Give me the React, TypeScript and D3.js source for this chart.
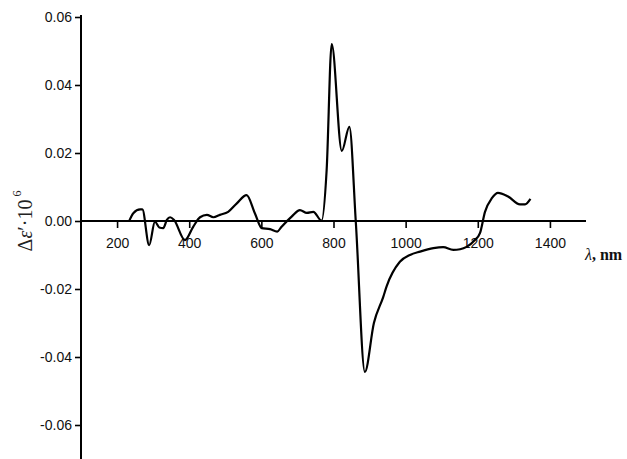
import React, { useRef, useEffect } from "react";
import * as d3 from "d3";

// wavelength (nm) and CD signal
const wavelength = [
  234, 245, 264, 270, 289, 305, 317, 328, 338, 347, 358, 388, 411, 430, 449,
  467, 485, 508, 532, 559, 582, 601, 624, 644, 656, 684, 707, 726, 744, 767,
  781, 795, 823, 844, 862, 887, 912, 938, 947, 984, 1012, 1040, 1077, 1104,
  1132, 1151, 1169, 1192, 1206, 1220, 1239, 1256, 1284, 1317, 1331, 1346,
];
const deltaEps = [
  0.0001, 0.0023, 0.0034, 0.0034, -0.0071, -0.0002, -0.0019, -0.0021, 0.0003,
  0.0011, 0.0003, -0.0056, -0.0017, 0.0011, 0.0018, 0.0011, 0.0018, 0.0027,
  0.0052, 0.0076, 0.0023, -0.0021, -0.0024, -0.0031, -0.0017, 0.0013, 0.0032,
  0.0024, 0.0027, 0.0001, 0.015, 0.052, 0.0206, 0.0277, -0.0006, -0.0444,
  -0.03, -0.0223, -0.0193, -0.012, -0.01, -0.009, -0.008, -0.0077, -0.0085,
  -0.0083, -0.0076, -0.0056, -0.0036, 0.0027, 0.0067, 0.0083, 0.0072, 0.0049,
  0.0049, 0.0065,
];

const xMajor = [200, 400, 600, 800, 1000, 1200, 1400];
const xMinor = [300, 500, 700, 900, 1100, 1300];
const yMajor = [-0.06, -0.04, -0.02, 0.0, 0.02, 0.04, 0.06];
const yMinor = [-0.07, -0.05, -0.03, -0.01, 0.01, 0.03, 0.05];

const App = () => {
  const ref = useRef(null);

  useEffect(() => {
    const svg = d3.select(ref.current);
    svg.selectAll("*").remove();

    const x = d3.scaleLinear().domain([100, 1500]).range([81, 586]);
    const y = d3.scaleLinear().domain([-0.07, 0.06]).range([459, 17]);
    const font = "'Liberation Sans', Arial, sans-serif";

    // x axis through zero
    const gx = svg.append("g").attr("transform", `translate(0,${y(0)})`);
    gx.call(
      d3.axisBottom(x).tickValues(xMinor).tickSize(3).tickFormat(() => "")
    );
    gx.call(
      d3
        .axisBottom(x)
        .tickValues(xMajor)
        .tickSize(7)
        .tickPadding(10)
        .tickFormat((d) => String(d))
    );
    gx.selectAll(".domain").remove();
    gx.append("line")
      .attr("x1", 81)
      .attr("x2", 586)
      .attr("stroke", "#000")
      .attr("stroke-width", 2);

    // y axis
    const gy = svg.append("g").attr("transform", `translate(${x(100)},0)`);
    gy.call(d3.axisLeft(y).tickValues(yMinor).tickSize(3).tickFormat(() => ""));
    gy.call(
      d3
        .axisLeft(y)
        .tickValues(yMajor)
        .tickSize(6)
        .tickPadding(3)
        .tickFormat((d) => (+d).toFixed(2))
    );
    gy.selectAll(".domain").remove();
    gy.append("line")
      .attr("y1", 15)
      .attr("y2", 459)
      .attr("stroke", "#000")
      .attr("stroke-width", 2);

    svg.selectAll(".tick line").attr("stroke", "#000").attr("stroke-width", 1.6);
    svg
      .selectAll(".tick text")
      .attr("fill", "#111")
      .style("font-family", font)
      .style("font-size", "14px");

    // the curve
    const line = d3
      .line()
      .x((d) => x(d[0]))
      .y((d) => y(d[1]))
      .curve(d3.curveMonotoneX);
    svg
      .append("path")
      .datum(wavelength.map((w, i) => [w, deltaEps[i]]))
      .attr("fill", "none")
      .attr("stroke", "#000")
      .attr("stroke-width", 2.2)
      .attr("stroke-linejoin", "round")
      .attr("d", line);

    // axis titles
    const yt = svg
      .append("text")
      .attr("transform", "translate(32,221) rotate(-90)")
      .attr("text-anchor", "middle")
      .style("font-family", "'Liberation Serif', 'Times New Roman', serif")
      .style("font-size", "20px")
      .attr("fill", "#222");
    yt.append("tspan").text("\u0394");
    yt.append("tspan").style("font-style", "italic").text("\u03b5");
    yt.append("tspan").text("\u2032\u00b710");
    yt.append("tspan")
      .attr("dy", -11)
      .attr("dx", 3)
      .style("font-size", "12px")
      .text("6");

    const xt = svg
      .append("text")
      .attr("x", 585)
      .attr("y", 260)
      .style("font-family", "'Liberation Serif', 'Times New Roman', serif")
      .style("font-size", "16px")
      .attr("fill", "#111");
    xt.append("tspan").style("font-style", "italic").text("\u03bb");
    xt.append("tspan").style("font-weight", "bold").text(", nm");
  }, []);

  return (
    <svg
      ref={ref}
      width={627}
      height={459}
      style={{ position: "absolute", left: 0, top: 0, background: "#fff" }}
    />
  );
};

export default App;
